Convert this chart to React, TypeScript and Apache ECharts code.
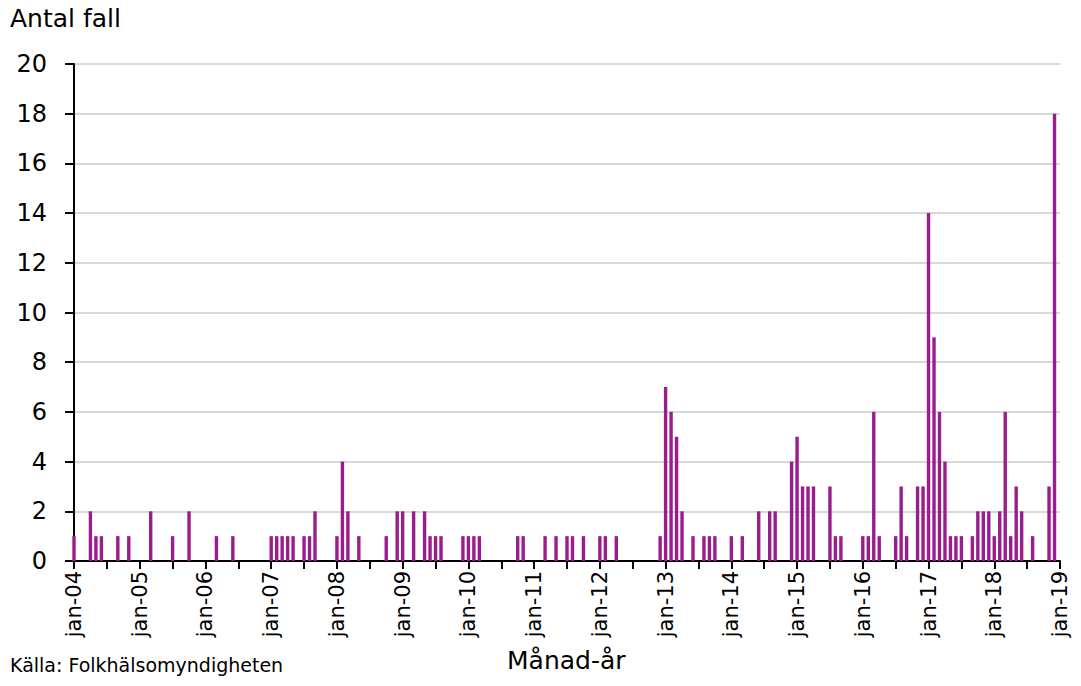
import React, { useEffect, useRef } from "react";
import * as echarts from "echarts";

// Monthly case counts, jan-04 .. dec-18 (one array per year)
const y2004 = [1, 0, 0, 2, 1, 1, 0, 0, 1, 0, 1, 0];
const y2005 = [0, 0, 2, 0, 0, 0, 1, 0, 0, 2, 0, 0];
const y2006 = [0, 0, 1, 0, 0, 1, 0, 0, 0, 0, 0, 0];
const y2007 = [1, 1, 1, 1, 1, 0, 1, 1, 2, 0, 0, 0];
const y2008 = [1, 4, 2, 0, 1, 0, 0, 0, 0, 1, 0, 2];
const y2009 = [2, 0, 2, 0, 2, 1, 1, 1, 0, 0, 0, 1];
const y2010 = [1, 1, 1, 0, 0, 0, 0, 0, 0, 1, 1, 0];
const y2011 = [0, 0, 1, 0, 1, 0, 1, 1, 0, 1, 0, 0];
const y2012 = [1, 1, 0, 1, 0, 0, 0, 0, 0, 0, 0, 1];
const y2013 = [7, 6, 5, 2, 0, 1, 0, 1, 1, 1, 0, 0];
const y2014 = [1, 0, 1, 0, 0, 2, 0, 2, 2, 0, 0, 4];
const y2015 = [5, 3, 3, 3, 0, 0, 3, 1, 1, 0, 0, 0];
const y2016 = [1, 1, 6, 1, 0, 0, 1, 3, 1, 0, 3, 3];
const y2017 = [14, 9, 6, 4, 1, 1, 1, 0, 1, 2, 2, 2];
const y2018 = [1, 2, 6, 1, 3, 2, 0, 1, 0, 0, 3, 18];

const yearLabels = ["04", "05", "06", "07", "08", "09", "10", "11", "12", "13", "14", "15", "16", "17", "18", "19"];
const yTicks = [0, 2, 4, 6, 8, 10, 12, 14, 16, 18, 20];

const monthly = [
  ...y2004, ...y2005, ...y2006, ...y2007, ...y2008, ...y2009, ...y2010, ...y2011,
  ...y2012, ...y2013, ...y2014, ...y2015, ...y2016, ...y2017, ...y2018,
];

const FONT = "DejaVu Sans";

export default function App() {
  const ref = useRef<HTMLDivElement>(null);
  useEffect(() => {
    if (!ref.current) return;
    const chart = echarts.init(ref.current, null, { renderer: "svg" });
    chart.setOption({
      animation: false,
      backgroundColor: "#ffffff",
      grid: { left: 74, right: 21, top: 64, bottom: 125, containLabel: false },
      xAxis: {
        type: "value",
        min: 0,
        max: (yearLabels.length - 1) * 12,
        interval: 6,
        splitLine: { show: false },
        axisLine: { show: true, lineStyle: { color: "#000", width: 2 } },
        axisTick: { show: true, inside: false, length: 8, lineStyle: { color: "#000", width: 2 } },
        axisLabel: {
          rotate: 90,
          margin: 10,
          fontFamily: FONT,
          fontSize: 21,
          color: "#000",
          showMinLabel: true,
          showMaxLabel: true,
          formatter: (v: number) => (v % 12 === 0 ? "jan-" + yearLabels[v / 12] : ""),
        },
      },
      yAxis: {
        type: "value",
        min: yTicks[0],
        max: yTicks[yTicks.length - 1],
        interval: 2,
        splitLine: { show: true, lineStyle: { color: "#d9d9d9", width: 2 } },
        axisLine: { show: true, lineStyle: { color: "#000", width: 2 } },
        axisTick: { show: true, inside: false, length: 9, lineStyle: { color: "#000", width: 2 } },
        axisLabel: { margin: 27, fontFamily: FONT, fontSize: 24, color: "#000" },
      },
      series: [
        {
          type: "bar",
          barWidth: 3.4,
          clip: true,
          itemStyle: { color: "#9b1c8c" },
          data: monthly.map((v, i) => [i, v]),
        },
      ],
      graphic: [
        {
          type: "text",
          left: 10,
          top: 6,
          style: { text: "Antal fall", fontFamily: FONT, fontSize: 25, fill: "#000" },
        },
        {
          type: "text",
          left: 507,
          top: 648,
          style: { text: "Månad-år", fontFamily: FONT, fontSize: 25, fill: "#000" },
        },
        {
          type: "text",
          left: 10,
          top: 655,
          style: { text: "Källa: Folkhälsomyndigheten", fontFamily: FONT, fontSize: 19, fill: "#000" },
        },
      ],
    });
    return () => chart.dispose();
  }, []);
  return (
    <div
      ref={ref}
      style={{ position: "fixed", left: 0, top: 0, width: 1081, height: 686, background: "#fff" }}
    />
  );
}
